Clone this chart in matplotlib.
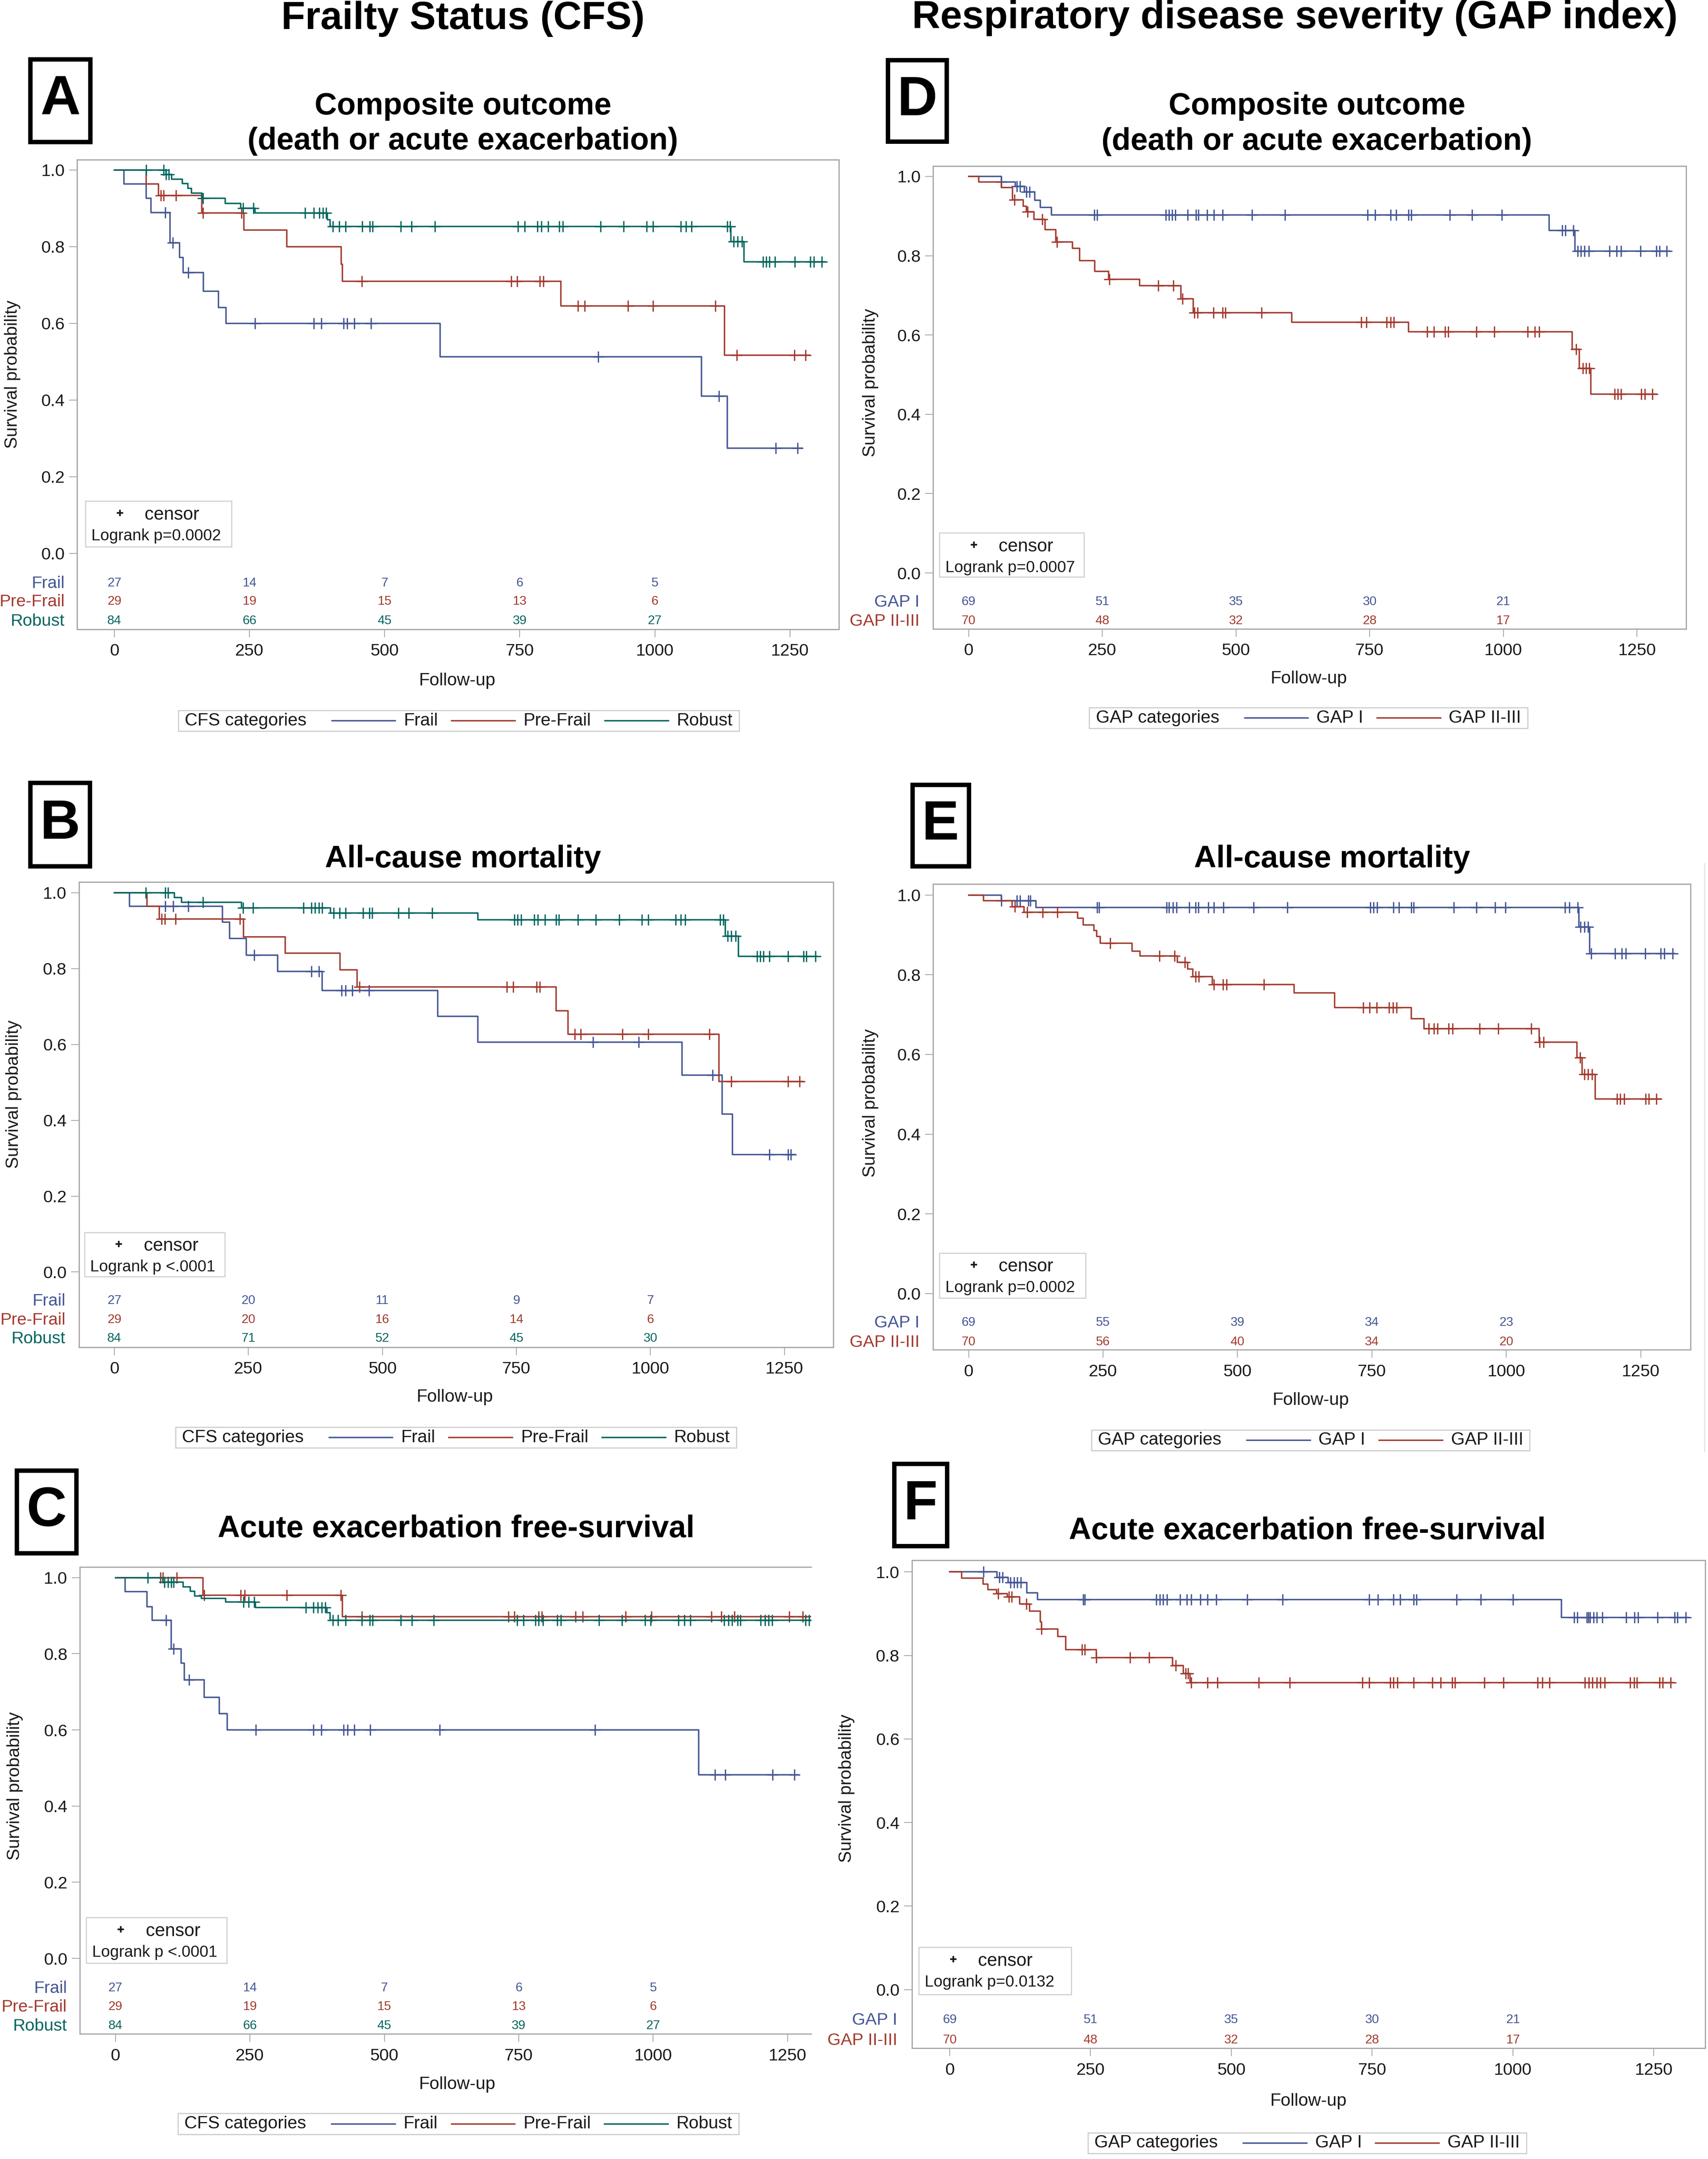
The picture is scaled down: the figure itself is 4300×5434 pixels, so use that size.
import numpy as np
import matplotlib
matplotlib.use('Agg')
import matplotlib.pyplot as plt
from matplotlib.patches import Rectangle
from matplotlib.lines import Line2D
from matplotlib.transforms import blended_transform_factory
from matplotlib.offsetbox import AnchoredOffsetbox, HPacker, TextArea, DrawingArea

plt.rcParams['font.family'] = ['Liberation Sans', 'DejaVu Sans']

# ---------------- data (days / survival probability) ----------------
risk_days = [0, 250, 500, 750, 1000]
x_ticks = [0, 250, 500, 750, 1000, 1250]
y_ticks = [0.0, 0.2, 0.4, 0.6, 0.8, 1.0]
cfs_groups = ['Frail', 'Pre-Frail', 'Robust']
gap_groups = ['GAP I', 'GAP II-III']

# A: CFS, composite outcome
a_frail_t = [18, 59, 68, 103, 121, 127, 165, 193, 207, 603, 1086, 1134]
a_frail_s = [0.963, 0.926, 0.889, 0.81, 0.772, 0.732, 0.684, 0.641, 0.600, 0.513, 0.41, 0.274]
a_frail_c = [94, 108, 137, 260, 369, 383, 424, 431, 444, 475, 895, 1119, 1224, 1264]
a_frail_end = 1272
a_pre_t = [59, 82, 162, 240, 319, 420, 422, 826, 1129]
a_pre_s = [0.963, 0.933, 0.888, 0.843, 0.800, 0.754, 0.71, 0.645, 0.517]
a_pre_c = [86, 91, 114, 164, 235, 458, 734, 745, 787, 794, 858, 870, 950, 997, 1112, 1152, 1258, 1279]
a_pre_end = 1286
a_rob_t = [96, 106, 126, 136, 143, 162, 205, 234, 260, 394, 399, 1141, 1165]
a_rob_s = [0.988, 0.976, 0.964, 0.952, 0.94, 0.926, 0.913, 0.90, 0.888, 0.87, 0.852, 0.813, 0.76]
a_rob_c = [59, 91, 96, 101, 164, 238, 257, 353, 369, 379, 386, 392, 404, 416, 428, 459, 473, 478, 530,
           550, 593, 747, 759, 783, 790, 803, 823, 830, 900, 942, 985, 997, 1048, 1058, 1068, 1134,
           1139, 1146, 1153, 1161, 1200, 1206, 1212, 1222, 1259, 1288, 1294, 1309]
a_rob_end = 1315
a_risk = [[27, 14, 7, 6, 5], [29, 19, 15, 13, 6], [84, 66, 45, 39, 27]]

# B: CFS, all-cause mortality
b_frail_t = [28, 202, 215, 246, 305, 388, 603, 678, 1059, 1134, 1153]
b_frail_s = [0.964, 0.922, 0.879, 0.835, 0.792, 0.742, 0.674, 0.606, 0.519, 0.416, 0.309]
b_frail_c = [95, 110, 138, 261, 368, 382, 424, 431, 444, 475, 893, 978, 1116, 1222, 1257, 1262]
b_frail_end = 1270
b_pre_t = [61, 84, 241, 319, 421, 453, 824, 846, 1128]
b_pre_s = [0.964, 0.931, 0.883, 0.841, 0.797, 0.751, 0.689, 0.627, 0.502]
b_pre_c = [88, 94, 114, 234, 457, 732, 744, 788, 794, 859, 870, 948, 996, 1110, 1151, 1257, 1278]
b_pre_end = 1284
b_rob_t = [112, 125, 237, 403, 678, 1140, 1164]
b_rob_s = [0.987, 0.975, 0.96, 0.946, 0.928, 0.886, 0.832]
b_rob_c = [59, 95, 100, 165, 240, 259, 353, 368, 374, 382, 388, 409, 420, 431, 464, 476, 481, 530,
           549, 593, 746, 752, 759, 783, 790, 803, 824, 829, 865, 898, 942, 984, 996, 1047, 1057,
           1065, 1130, 1136, 1144, 1151, 1159, 1199, 1205, 1211, 1222, 1257, 1286, 1291, 1308]
b_rob_end = 1311
b_risk = [[27, 20, 11, 9, 7], [29, 20, 16, 14, 6], [84, 71, 52, 45, 30]]

# C: CFS, acute exacerbation free-survival
c_frail_t = [18, 59, 68, 104, 122, 128, 165, 193, 208, 1085]
c_frail_s = [0.963, 0.924, 0.888, 0.813, 0.775, 0.732, 0.686, 0.643, 0.60, 0.482]
c_frail_c = [94, 108, 137, 261, 368, 383, 424, 432, 444, 474, 603, 892, 1115, 1134, 1222, 1263]
c_frail_end = 1270
c_pre_t = [163, 422]
c_pre_s = [0.954, 0.898]
c_pre_c = [84, 88, 114, 165, 233, 240, 319, 419, 458, 731, 742, 787, 793, 856, 869, 949, 997,
           1108, 1127, 1151, 1253, 1278]
c_pre_end = 1294
c_rob_t = [88, 126, 139, 147, 160, 205, 260, 393, 399]
c_rob_s = [0.988, 0.976, 0.964, 0.952, 0.946, 0.936, 0.922, 0.908, 0.888]
c_rob_c = [60, 91, 98, 104, 108, 238, 248, 258, 354, 368, 376, 384, 390, 404, 414, 428, 458, 473,
           478, 531, 551, 592, 747, 759, 781, 787, 795, 822, 828, 899, 942, 985, 995, 1047, 1058,
           1069, 1132, 1140, 1147, 1157, 1162, 1200, 1208, 1215, 1221, 1283, 1290]
c_rob_end = 1320
c_risk = [[27, 14, 7, 6, 5], [29, 19, 15, 13, 6], [84, 66, 45, 39, 27]]

# D: GAP, composite outcome
d_g1_t = [61, 87, 104, 124, 134, 155, 1086, 1134]
d_g1_s = [0.986, 0.975, 0.961, 0.94, 0.922, 0.903, 0.864, 0.812]
d_g1_c = [61, 90, 96, 108, 114, 235, 240, 369, 375, 381, 387, 410, 425, 430, 446, 459, 475, 530,
          592, 746, 760, 789, 800, 823, 828, 900, 942, 997, 1110, 1116, 1131, 1139, 1145, 1152,
          1160, 1199, 1212, 1220, 1257, 1286, 1292, 1306]
d_g1_end = 1311
d_g2_t = [19, 61, 82, 102, 108, 122, 143, 163, 194, 208, 236, 262, 320, 397, 420, 604, 823, 1129,
          1142, 1164]
d_g2_s = [0.986, 0.972, 0.941, 0.925, 0.911, 0.892, 0.866, 0.835, 0.819, 0.788, 0.76, 0.74, 0.724,
          0.691, 0.656, 0.632, 0.608, 0.564, 0.516, 0.451]
d_g2_c = [86, 110, 138, 165, 263, 355, 383, 400, 422, 428, 458, 475, 480, 548, 734, 744, 782, 789,
          795, 858, 870, 891, 897, 950, 983, 1046, 1059, 1067, 1136, 1149, 1155, 1161, 1208, 1214,
          1220, 1258, 1265, 1279]
d_g2_end = 1286
d_risk = [[69, 51, 35, 30, 21], [70, 48, 32, 28, 17]]

# E: GAP, all-cause mortality
e_g1_t = [61, 125, 1135, 1155]
e_g1_s = [0.986, 0.969, 0.92, 0.853]
e_g1_c = [61, 90, 96, 111, 115, 239, 243, 368, 373, 380, 387, 410, 422, 427, 446, 456, 474, 530,
          593, 747, 753, 760, 790, 800, 823, 828, 902, 944, 979, 998, 1109, 1117, 1133, 1138, 1145,
          1152, 1158, 1202, 1215, 1222, 1258, 1287, 1294, 1309]
e_g1_end = 1313
e_g2_t = [28, 81, 103, 203, 213, 233, 238, 245, 304, 319, 388, 407, 417, 453, 605, 681, 823, 847,
          1061, 1131, 1141, 1165]
e_g2_s = [0.986, 0.971, 0.957, 0.942, 0.925, 0.911, 0.896, 0.879, 0.859, 0.847, 0.831, 0.814,
          0.795, 0.775, 0.754, 0.718, 0.69, 0.665, 0.631, 0.592, 0.55, 0.488]
e_g2_c = [86, 109, 138, 165, 263, 355, 383, 402, 422, 428, 456, 473, 480, 549, 734, 746, 759, 782,
          789, 796, 856, 865, 872, 893, 900, 950, 985, 1046, 1062, 1069, 1137, 1145, 1152, 1159,
          1206, 1212, 1219, 1259, 1265, 1279]
e_g2_end = 1287
e_risk = [[69, 55, 39, 34, 23], [70, 56, 40, 34, 20]]

# F: GAP, acute exacerbation free-survival
f_g1_t = [84, 104, 137, 156, 1086]
f_g1_s = [0.987, 0.975, 0.95, 0.934, 0.891]
f_g1_c = [60, 88, 94, 108, 114, 120, 126, 237, 240, 367, 373, 379, 386, 409, 421, 429, 445, 458,
          473, 528, 591, 745, 760, 788, 800, 824, 829, 900, 943, 1000, 1109, 1114, 1131, 1134, 1137,
          1143, 1149, 1159, 1201, 1216, 1222, 1257, 1287, 1292, 1307]
f_g1_end = 1312
f_g2_t = [21, 59, 68, 83, 102, 124, 142, 161, 163, 192, 206, 260, 396, 415, 427]
f_g2_s = [0.985, 0.971, 0.957, 0.948, 0.94, 0.923, 0.906, 0.88, 0.863, 0.845, 0.814, 0.795, 0.776,
          0.757, 0.735]
f_g2_c = [86, 105, 110, 136, 163, 235, 240, 260, 320, 354, 401, 419, 423, 429, 458, 475, 549, 604,
          733, 745, 782, 788, 795, 824, 857, 872, 892, 897, 949, 983, 1044, 1052, 1065, 1128, 1135,
          1141, 1149, 1155, 1163, 1208, 1215, 1220, 1260, 1266, 1280]
f_g2_end = 1285
f_risk = [[69, 51, 35, 30, 21], [70, 48, 32, 28, 17]]

logrank = {'A': 'Logrank p=0.0002', 'B': 'Logrank p <.0001', 'C': 'Logrank p <.0001',
           'D': 'Logrank p=0.0007', 'E': 'Logrank p=0.0002', 'F': 'Logrank p=0.0132'}

cfs_colors = ['#445694', '#A23A2E', '#01665E']
gap_colors = ['#445694', '#A23A2E']

# ---------------- layout (reference pixel grid 1240 x 1568) ----------------
W, H = 1240.0, 1568.0


def fx(px):
    return px / W


def fy(py):
    return 1 - py / H


layout = {
    'A': dict(frame=(56, 116, 609, 457), x0=83, x1=573.5, y1=123.4, y0=401.9,
              rows=[422.5, 436, 450], lab_r=47, ylab=(9, 272), xlab=(332, 494.5),
              leg=(333, 523.5), cbox=(62, 364, 168, 397), letter=(22, 43, 65.6, 103),
              title=(336, [83, 108.5]), right=True),
    'B': dict(frame=(57.3, 640.7, 605, 978.4), x0=83, x1=569.5, y1=648.3, y0=923.8,
              rows=[943.7, 957.6, 971], lab_r=47.5, ylab=(9.9, 794.7), xlab=(330, 1014.8),
              leg=(331, 1044), cbox=(61.3, 895, 163.3, 927), letter=(21.8, 568.5, 65.3, 629),
              title=(336, [630]), right=True),
    'C': dict(frame=(57.9, 1138.1, 588.9, 1477.2), x0=83.8, x1=571.8, y1=1145.8, y0=1422.3,
              rows=[1442.9, 1456.5, 1470.2], lab_r=48.6, ylab=(10.9, 1297), xlab=(332, 1513.8),
              leg=(332.8, 1542.5), cbox=(62.7, 1392.6, 164.7, 1425.8), letter=(12, 1068, 55.4, 1128),
              title=(331, [1116.5]), right=False),
    'D': dict(frame=(677.5, 120.6, 1224, 456.8), x0=703.2, x1=1188.4, y1=128.1, y0=416.1,
              rows=[436.2, 450], lab_r=667.6, ylab=(632, 278), xlab=(950, 493),
              leg=(950, 521.5), cbox=(682, 387, 787, 419), letter=(644.6, 43.5, 687.3, 102.8),
              title=(956, [83, 108.8]), right=True),
    'E': dict(frame=(677.5, 642, 1227.2, 980.3), x0=703.2, x1=1191.2, y1=650, y0=939.5,
              rows=[959.7, 973.6], lab_r=667.6, ylab=(632, 801), xlab=(951.5, 1017),
              leg=(951.5, 1046), cbox=(682, 910, 788, 942.7), letter=(662.4, 569.8, 703.2, 629),
              title=(967, [630]), right=True),
    'F': dict(frame=(662, 1133.2, 1237.9, 1487.6), x0=689.5, x1=1200.6, y1=1141.6, y0=1445,
              rows=[1466, 1480.6], lab_r=651.4, ylab=(614.6, 1299), xlab=(949.7, 1526),
              leg=(949, 1556.4), cbox=(667, 1414.2, 777.7, 1448.5), letter=(649, 1063, 687.5, 1122.8),
              title=(949, [1118]), right=True),
}

titles = {'A': ['Composite outcome', '(death or acute exacerbation)'],
          'B': ['All-cause mortality'], 'C': ['Acute exacerbation free-survival'],
          'D': ['Composite outcome', '(death or acute exacerbation)'],
          'E': ['All-cause mortality'], 'F': ['Acute exacerbation free-survival']}

panels = {
    'A': ([(a_frail_t, a_frail_s, a_frail_c, a_frail_end), (a_pre_t, a_pre_s, a_pre_c, a_pre_end),
           (a_rob_t, a_rob_s, a_rob_c, a_rob_end)], a_risk, cfs_groups, cfs_colors, 'CFS categories'),
    'B': ([(b_frail_t, b_frail_s, b_frail_c, b_frail_end), (b_pre_t, b_pre_s, b_pre_c, b_pre_end),
           (b_rob_t, b_rob_s, b_rob_c, b_rob_end)], b_risk, cfs_groups, cfs_colors, 'CFS categories'),
    'C': ([(c_frail_t, c_frail_s, c_frail_c, c_frail_end), (c_pre_t, c_pre_s, c_pre_c, c_pre_end),
           (c_rob_t, c_rob_s, c_rob_c, c_rob_end)], c_risk, cfs_groups, cfs_colors, 'CFS categories'),
    'D': ([(d_g1_t, d_g1_s, d_g1_c, d_g1_end), (d_g2_t, d_g2_s, d_g2_c, d_g2_end)],
          d_risk, gap_groups, gap_colors, 'GAP categories'),
    'E': ([(e_g1_t, e_g1_s, e_g1_c, e_g1_end), (e_g2_t, e_g2_s, e_g2_c, e_g2_end)],
          e_risk, gap_groups, gap_colors, 'GAP categories'),
    'F': ([(f_g1_t, f_g1_s, f_g1_c, f_g1_end), (f_g2_t, f_g2_s, f_g2_c, f_g2_end)],
          f_risk, gap_groups, gap_colors, 'GAP categories'),
}

FRAME = '#a6a6a6'
TXT = '#1a1a1a'

fig = plt.figure(figsize=(43, 54.34), dpi=100)

# column headers
fig.text(fx(336), fy(21), 'Frailty Status (CFS)', ha='center', va='baseline',
         fontsize=71, fontweight='bold')
fig.text(fx(940), fy(20.6), 'Respiratory disease severity (GAP index)', ha='center',
         va='baseline', fontsize=71, fontweight='bold')


def add_legend(cx, cy, title, labels, colors):
    tp = dict(fontsize=32, color=TXT)
    items = [DrawingArea(8, 10), TextArea(title, textprops=tp)]
    for i, (lab, col) in enumerate(zip(labels, colors)):
        gap = 46 if i == 0 else 25
        da = DrawingArea(gap + 115 + 15, 30)
        da.add_artist(Line2D([gap, gap + 115], [15, 15], color=col, lw=2.6))
        items += [da, TextArea(lab, textprops=tp)]
    items.append(DrawingArea(8, 10))
    box = HPacker(children=items, align='center', pad=0, sep=0)
    anch = AnchoredOffsetbox(loc='center', child=box, pad=0.12, borderpad=0, frameon=True,
                             prop=dict(size=32), bbox_to_anchor=(fx(cx), fy(cy)),
                             bbox_transform=fig.transFigure)
    anch.patch.set_edgecolor('#cccccc')
    anch.patch.set_linewidth(2)
    fig.add_artist(anch)


for key, (curves, risk, groups, colors, legtitle) in panels.items():
    lay = layout[key]
    L, T, R, B = lay['frame']
    x0, x1, y1, y0 = lay['x0'], lay['x1'], lay['y1'], lay['y0']
    ax = fig.add_axes([fx(L), fy(B), (R - L) / W, (B - T) / H])
    ax.set_xlim((L - x0) / (x1 - x0) * 1250, (R - x0) / (x1 - x0) * 1250)
    ax.set_ylim(-(B - y0) / (y0 - y1), 1 + (y1 - T) / (y0 - y1))

    for (t, s, c, end), col in zip(curves, colors):
        xs = np.r_[0, t, end]
        ys = np.r_[1.0, s, s[-1]]
        ax.step(xs, ys, where='post', color=col, lw=2.6)
        lvl = np.r_[1.0, s][np.searchsorted(t, c, side='right')]
        ax.plot(c, lvl, ls='none', marker='+', ms=20, mew=2.4, color=col)

    # number at risk rows
    lab_tr = blended_transform_factory(fig.transFigure, ax.transData)
    for row_px, grp, nums, col in zip(lay['rows'], groups, risk, colors):
        ry = (y0 - row_px) / (y0 - y1)
        for d, n in zip(risk_days, nums):
            ax.text(d, ry, str(n), ha='center', va='center_baseline', fontsize=23, color=col)
        ax.text(fx(lay['lab_r']), ry, grp, transform=lab_tr, ha='right',
                va='center_baseline', fontsize=31, color=col)

    ax.set_xticks(x_ticks)
    ax.set_yticks(y_ticks)
    ax.set_yticklabels(['%.1f' % v for v in y_ticks])
    ax.tick_params(direction='out', length=14.4, width=1.5, color=FRAME, labelsize=31,
                   labelcolor=TXT)
    ax.tick_params(axis='x', pad=11)
    ax.tick_params(axis='y', pad=8)
    for side, sp in ax.spines.items():
        sp.set_color(FRAME)
        sp.set_linewidth(2.2)
    if not lay['right']:
        ax.spines['right'].set_visible(False)

    ax.set_ylabel('Survival probability', fontsize=32, color=TXT, va='center')
    ax.yaxis.set_label_coords((lay['ylab'][0] - L) / (R - L), (B - lay['ylab'][1]) / (B - T))
    ax.set_xlabel('Follow-up', fontsize=32, color=TXT, va='center')
    ax.xaxis.set_label_coords((lay['xlab'][0] - L) / (R - L), (B - lay['xlab'][1]) / (B - T))

    # censor / logrank box
    cl, ct, cr, cb = lay['cbox']
    fig.add_artist(Rectangle((fx(cl), fy(cb)), (cr - cl) / W, (cb - ct) / H,
                             transform=fig.transFigure, facecolor='white',
                             edgecolor='#d0d0d0', lw=2))
    fig.add_artist(Line2D([fx(cl + 25)], [fy(ct + 8.6)], marker='+', ms=12, mew=3,
                          color=TXT, transform=fig.transFigure))
    fig.text(fx(cl + 43), fy(ct + 13.5), 'censor', fontsize=33, color=TXT, va='baseline')
    fig.text(fx(cl + 4.2), fy(ct + 28.5), logrank[key], fontsize=29, color=TXT, va='baseline')

    # legend below
    add_legend(lay['leg'][0], lay['leg'][1], legtitle, groups, colors)

    # panel letter
    bl, bt, br, bb = lay['letter']
    fig.add_artist(Rectangle((fx(bl), fy(bb)), (br - bl) / W, (bb - bt) / H,
                             transform=fig.transFigure, facecolor='none',
                             edgecolor='black', lw=8))
    fig.text(fx((bl + br) / 2), fy((bt + bb) / 2), key, ha='center', va='center',
             fontsize=101, fontweight='bold')

    # panel title
    tcx, baselines = lay['title']
    for line, base in zip(titles[key], baselines):
        fig.text(fx(tcx), fy(base), line, ha='center', va='baseline', fontsize=56,
                 fontweight='bold')

# faint image edge next to panel E
fig.add_artist(Line2D([fx(1237.5), fx(1237.5)], [fy(627), fy(1054)], color='#e4e4e4',
                      lw=2, transform=fig.transFigure))

fig.savefig('out.png', dpi=100, facecolor='white')
